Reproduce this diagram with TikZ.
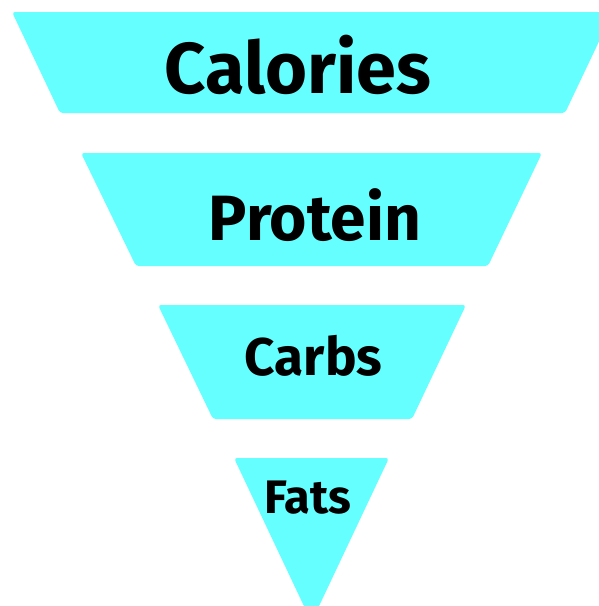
\documentclass[tikz,border=0pt]{standalone}
\usepackage{fontspec}
\setmainfont{Fira Sans}
\begin{document}
\begin{tikzpicture}[x=1pt,y=-1pt,
  tier/.style={fill=funnelcyan,draw=none,rounded corners=3pt},
  lbl/.style={anchor=base,inner sep=0pt,font=\bfseries}]
\definecolor{funnelcyan}{HTML}{66FFFF}
\useasboundingbox (0,0) rectangle (599,606);
\clip (0,0) rectangle (599,606);
\fill[tier] (12,12) -- (613,12) -- (565,113) -- (60,113) -- cycle;
\fill[tier] (81,153) -- (542,153) -- (488,266) -- (136,266) -- cycle;
\fill[tier] (158,305) -- (466,305) -- (412,419) -- (213,419) -- cycle;
\fill[tier] (234,458) -- (389,458) -- (311.5,622) -- cycle;
\node[lbl,font=\fontsize{72}{72}\selectfont\bfseries] (cal) at (298,93) {Calories};
\node[lbl,font=\fontsize{64}{64}\selectfont\bfseries] (pro) at (315,240) {Protein};
\node[lbl,font=\fontsize{53}{53}\selectfont\bfseries] (car) at (313.5,375) {Carbs};
\node[lbl,font=\fontsize{47}{47}\selectfont\bfseries] (fat) at (308,513) {Fats};
\end{tikzpicture}
\end{document}
